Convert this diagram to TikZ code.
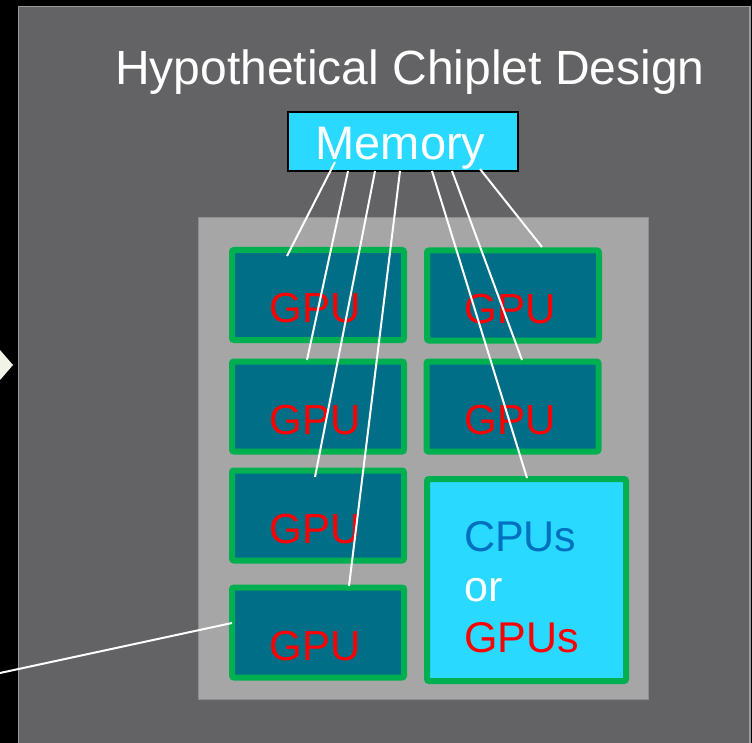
\documentclass[tikz,border=0pt]{standalone}
\usepackage{fontspec}
\setmainfont{Liberation Sans}
\usetikzlibrary{calc}
\definecolor{panelgray}{HTML}{636365}
\definecolor{panelline}{HTML}{9A9A9C}
\definecolor{innergray}{HTML}{A6A6A6}
\definecolor{innerline}{HTML}{8E8E90}
\definecolor{gpufill}{HTML}{006E87}
\definecolor{gpugreen}{HTML}{00B050}
\definecolor{memcyan}{HTML}{29D9FF}
\definecolor{cpublue}{HTML}{0070C0}
\definecolor{arrowcream}{HTML}{F0F4E6}
\tikzset{
  chip/.style={draw=gpugreen, line width=6pt, rounded corners=2pt, fill=gpufill,
    minimum width=172pt, minimum height=90pt, inner sep=0pt},
  cpuchip/.style={chip, fill=memcyan, minimum width=199pt, minimum height=202pt},
  gpulabel/.style={text=red, font=\fontsize{42}{48}\selectfont, inner sep=0pt, anchor=base},
  cpulabel/.style={font=\fontsize{43}{50}\selectfont, inner sep=0pt, anchor=base west},
  wire/.style={draw=white, line width=2pt},
}
\begin{document}
\begin{tikzpicture}[x=1pt, y=-1pt]
  % background
  \fill[black] (0,0) rectangle (752,743);
  \useasboundingbox (0,0) rectangle (752,743);
  \filldraw[fill=panelgray, draw=panelline, line width=1.5pt] (18.5,6.5) rectangle (750,745);
  % left arrow tip
  \fill[arrowcream] (0,350) -- (13,365) -- (0,380) -- cycle;
  % inner gray package
  \filldraw[fill=innergray, draw=innerline, line width=1pt] (198,218) rectangle (648,699);
  % title
  \node[text=white, font=\fontsize{48}{56}\selectfont, inner sep=0pt, anchor=base] (title) at (410,85) {Hypothetical Chiplet Design};
  % memory
  \node[draw=black, line width=1.5pt, fill=memcyan, minimum width=230pt, minimum height=59pt, inner sep=0pt] (mem) at (403,141.5) {};
  \node[text=white, font=\fontsize{47}{54}\selectfont, inner sep=0pt, anchor=base] (memtxt) at (400.5,160) {Memory};
  % chiplets
  \node[chip] (b1) at (318,295) {};
  \node[chip] (b2) at (513,295.5) {};
  \node[chip] (b3) at (318,406.5) {};
  \node[chip] (b4) at (512.5,406.5) {};
  \node[chip] (b5) at (318,515.5) {};
  \node[cpuchip] (b6) at (526.5,580) {};
  \node[chip] (b7) at (318,632.5) {};
  % labels
  \node[gpulabel] (g1) at ($(b1.center)+(-2.5,28)$) {GPU};
  \node[gpulabel] (g2) at ($(b2.center)+(-2.5,28)$) {GPU};
  \node[gpulabel] (g3) at ($(b3.center)+(-2.5,28)$) {GPU};
  \node[gpulabel] (g4) at ($(b4.center)+(-2.5,28)$) {GPU};
  \node[gpulabel] (g5) at ($(b5.center)+(-2.5,28)$) {GPU};
  \node[gpulabel] (g7) at ($(b7.center)+(-2.5,28)$) {GPU};
  \node[cpulabel, text=cpublue] (c1) at (464,551) {CPUs};
  \node[cpulabel, text=white] (c2) at (464,601) {or};
  \node[cpulabel, text=red] (c3) at (464,652) {GPUs};
  % wires from memory
  \draw[wire] ($(mem.center)+(-68,20.5)$) -- ($(b1.center)+(-31,-39)$);
  \draw[wire] ($(mem.center)+(-55,29.5)$) -- ($(b3.center)+(-11,-46.5)$);
  \draw[wire] ($(mem.center)+(-28,29.5)$) -- ($(b5.center)+(-3,-38.5)$);
  \draw[wire] ($(mem.center)+(-3,29.5)$) -- ($(b7.center)+(31,-46.5)$);
  \draw[wire] ($(mem.center)+(29,29.5)$) -- ($(b6.center)+(0.5,-102)$);
  \draw[wire] ($(mem.center)+(49,29.5)$) -- ($(b4.center)+(9.5,-46.5)$);
  \draw[wire] ($(mem.center)+(77,27.5)$) -- ($(b2.center)+(29,-48.5)$);
  % leader line from left
  \coordinate (lft) at (0,673);
  \draw[wire] (lft) -- ($(b7.center)+(-86,-9.5)$);
\end{tikzpicture}
\end{document}
